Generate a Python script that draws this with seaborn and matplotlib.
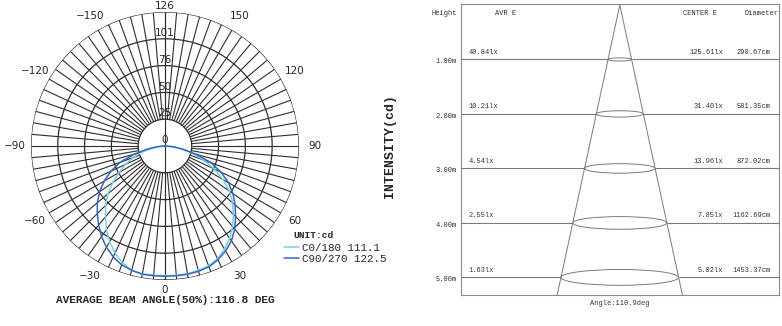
import numpy as np
import matplotlib
matplotlib.use("Agg")
import matplotlib.pyplot as plt
from matplotlib.patches import Ellipse
import seaborn as sns

# ---- polar data (angle in deg, 0 = straight down, + = right side) ----
angles = [-90, -85, -80, -75, -70, -65, -60, -55, -50, -45, -40, -35, -30,
          -25, -20, -15, -10, -5, 0, 5, 10, 15, 20, 25, 30, 35, 40, 45, 50,
          55, 60, 65, 70, 75, 80, 85, 90]
c0_180 = [0, 5, 12, 22, 32, 41, 50, 60, 70, 79, 87, 96, 104,
          111, 117, 121, 122, 122, 122, 122, 122, 121, 120, 117, 112, 106, 99, 91, 83,
          74, 63, 51, 39, 27, 15, 6, 0]
c90_270 = [0, 7, 17, 30, 45, 56, 66, 75, 83, 90, 97, 104, 110,
           115, 119, 121, 122.5, 122.5, 122.5, 122.5, 122.5, 122, 121, 118, 114, 109, 102, 94, 86,
           78, 69, 58, 46, 31, 17, 8, 0]
ring_values = [25.2, 50.4, 75.6, 100.8, 126.0]
ring_labels = ["25", "50", "76", "101", "126"]
angle_ticks = [0, 30, 60, 90, 120, 150, -30, -60, -90, -120, -150]
legend_labels = ["C0/180 111.1", "C90/270 122.5"]

# ---- illuminance cone data ----
heights = [1, 2, 3, 4, 5]
avr_e = [40.84, 10.21, 4.54, 2.55, 1.63]
center_e = [125.61, 31.40, 13.96, 7.85, 5.02]
diameter_cm = [290.67, 581.35, 872.02, 1162.69, 1453.37]
beam_angle = 110.9
avg_beam_angle = 116.8

sns.set_style("white")
mono = "Liberation Mono"
cyan = "#78d0e0"
blue = "#3466c2"
grid_c = "#2e2e2e"

fig = plt.figure(figsize=(7.82, 3.26), dpi=100)

# ================= polar intensity chart =================
ax = fig.add_axes([0.0396, 0.1411, 0.3427, 0.8221], projection="polar")
ax.set_theta_zero_location("S")
ax.set_theta_direction(1)
ax.set_ylim(0, 126)
ax.grid(False)
ax.set_xticks([])
ax.set_yticks([])
ax.spines["polar"].set_visible(False)

full = np.linspace(0, 2 * np.pi, 721)
for r in ring_values:
    ax.plot(full, np.full_like(full, r), color=grid_c, lw=0.9, zorder=1)
spokes = np.deg2rad(np.arange(0, 360, 5))
ax.vlines(spokes, ring_values[0], 126, color=grid_c, lw=0.8, zorder=1)
ax.vlines(np.deg2rad([0, 180]), 0, 126, color=grid_c, lw=0.8, zorder=1)

theta = np.deg2rad(angles)
sns.lineplot(x=theta, y=c0_180, ax=ax, color=cyan, lw=1.1, sort=False,
             label=legend_labels[0], zorder=3)
sns.lineplot(x=theta, y=c90_270, ax=ax, color=blue, lw=1.1, sort=False,
             label=legend_labels[1], zorder=4)
handles, labels = ax.get_legend_handles_labels()
if ax.get_legend() is not None:
    ax.get_legend().remove()

for a in angle_ticks:
    txt = str(a).replace("-", "\u2212")
    rr = 135 if a == 0 else 141
    ax.text(np.deg2rad(a), rr, txt, ha="center", va="center", fontsize=7.5,
            clip_on=False)
ax.text(np.pi, 6, "0", ha="center", va="center", fontsize=7.5)
for r, lab in zip(ring_values, ring_labels):
    ax.text(np.pi, r + 5.5, lab, ha="center", va="center", fontsize=7.5,
            clip_on=False)

fig.text(293 / 782, 1 - 235.5 / 326, "UNIT:cd", family=mono, weight="bold",
         fontsize=6.8, ha="left", va="center")
fig.legend(handles, labels, loc="upper left",
           bbox_to_anchor=(284 / 782, 1 - 243 / 326), frameon=False,
           prop={"family": mono, "size": 7.8},
           handlelength=1.4, handletextpad=0.3, labelspacing=0.05,
           borderpad=0, borderaxespad=0)
fig.text(165 / 782, 1 - 300 / 326,
         "AVERAGE BEAM ANGLE(50%):{:.1f} DEG".format(avg_beam_angle),
         family=mono, weight="bold", fontsize=8, ha="center", va="center")
fig.text(390 / 782, 1 - 146 / 326, "INTENSITY(cd)", family=mono,
         weight="bold", fontsize=9.5, rotation=90, ha="center", va="center")

# ================= illuminance cone =================
ax2 = fig.add_axes([0.5891, 0.0951, 0.4070, 0.8926])
xmax = 19.65
ymax = 5.323
ax2.set_xlim(-xmax, xmax)
ax2.set_ylim(ymax, -0.017)
ax2.set_xticks([])
ax2.set_yticks([])
for s in ax2.spines.values():
    s.set_color("#8a8a8a")
    s.set_linewidth(0.8)

line_c = "#7a7a7a"
half_tan = np.tan(np.deg2rad(beam_angle / 2))
for side in (-1, 1):
    sns.lineplot(x=[0, side * half_tan * ymax], y=[0, ymax], ax=ax2,
                 color=line_c, lw=0.7, sort=False)

for h, d in zip(heights, diameter_cm):
    rad = d / 200
    ax2.hlines(h, -xmax, -rad, color=line_c, lw=0.8)
    ax2.hlines(h, rad, xmax, color=line_c, lw=0.8)
    ax2.add_patch(Ellipse((0, h), width=2 * rad, height=0.058 * h,
                          fill=False, edgecolor=line_c, lw=0.7))

ty = ax2.get_yaxis_transform()
tkw = dict(family=mono, fontsize=5, color="#333333", transform=ty)
ax2.text(-0.012, 0.149, "Height", ha="right", va="center", **tkw)
ax2.text(0.108, 0.149, "AVR E", ha="left", va="center", **tkw)
ax2.text(0.697, 0.149, "CENTER E", ha="left", va="center", **tkw)
ax2.text(0.893, 0.149, "Diameter", ha="left", va="center", **tkw)
for h, a, c, d in zip(heights, avr_e, center_e, diameter_cm):
    ax2.text(-0.012, h + 0.04, "{:.2f}m".format(h), ha="right", va="center", **tkw)
    ax2.text(0.024, h - 0.134, "{:.2f}lx".format(a), ha="left", va="center", **tkw)
    ax2.text(0.825, h - 0.134, "{:.2f}lx".format(c), ha="right", va="center", **tkw)
    ax2.text(0.974, h - 0.134, "{:.2f}cm".format(d), ha="right", va="center", **tkw)
ax2.text(0.5, -0.03, "Angle:{:.1f}deg".format(beam_angle), ha="center",
         va="center", family=mono, fontsize=5, color="#333333",
         transform=ax2.transAxes)

fig.savefig("out.png", dpi=100)
